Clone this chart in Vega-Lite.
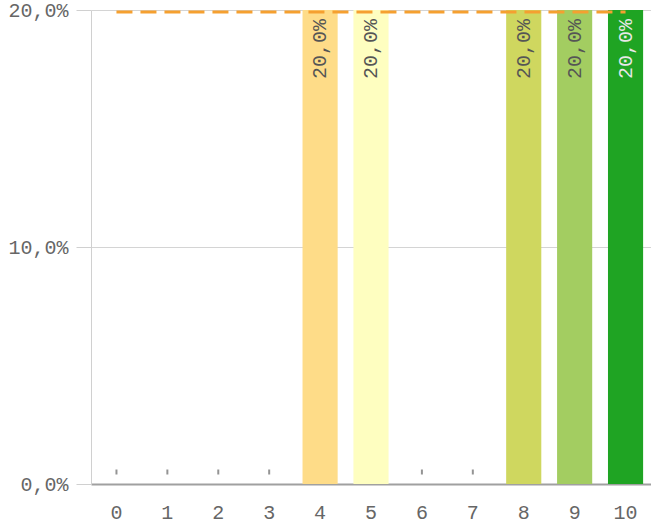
{
  "$schema": "https://vega.github.io/schema/vega-lite/v6.json",
  "width": 560,
  "height": 474,
  "autosize": {"type": "none"},
  "padding": {"left": 91, "top": 10, "right": 0, "bottom": 44},
  "config": {
    "locale": {"number": {"decimal": ",", "thousands": ".", "grouping": [3], "currency": ["", " €"]}},
    "view": {"stroke": null},
    "font": "Liberation Mono"
  },
  "data": {
    "values": [
      {"score": "0", "share": 0},
      {"score": "1", "share": 0},
      {"score": "2", "share": 0},
      {"score": "3", "share": 0},
      {"score": "4", "share": 0.2},
      {"score": "5", "share": 0.2},
      {"score": "6", "share": 0},
      {"score": "7", "share": 0},
      {"score": "8", "share": 0.2},
      {"score": "9", "share": 0.2},
      {"score": "10", "share": 0.2}
    ]
  },
  "encoding": {
    "x": {
      "field": "score", "type": "ordinal", "sort": null,
      "scale": {"paddingInner": 0.31, "paddingOuter": 0.155},
      "axis": {
        "title": null, "labelAngle": 0, "ticks": false, "labelPadding": 18,
        "labelFont": "Liberation Mono", "labelFontSize": 20, "labelColor": "#666",
        "domainColor": "#a0a0a0", "domainWidth": 2, "grid": false
      }
    }
  },
  "layer": [
    {
      "mark": {"type": "bar"},
      "encoding": {
        "y": {
          "field": "share", "type": "quantitative",
          "scale": {"domain": [0, 0.2], "nice": false},
          "axis": {
            "title": null, "format": ".1%", "values": [0, 0.1, 0.2],
            "labelFont": "Liberation Mono", "labelFontSize": 20, "labelColor": "#666",
            "tickSize": 15, "tickColor": "#d0d0d0", "labelPadding": 8,
            "domainColor": "#d0d0d0", "gridColor": "#d4d4d4", "grid": true
          }
        },
        "color": {
          "field": "score", "type": "ordinal", "sort": null, "legend": null,
          "scale": {
            "domain": ["0","1","2","3","4","5","6","7","8","9","10"],
            "range": ["#d7191c","#e34a33","#f07c4a","#fdae61","#fedc88","#fefec0","#e6ef9a","#e1e67a","#cfd75f","#a3cd61","#1fa423"]
          }
        }
      }
    },
    {
      "transform": [{"filter": "datum.share == 0"}],
      "mark": {"type": "tick", "orient": "vertical", "size": 5, "thickness": 2, "yOffset": -12, "color": "#666"},
      "encoding": {
        "y": {"field": "share", "type": "quantitative"}
      }
    },
    {
      "mark": {"type": "line", "color": "#f5a030", "strokeWidth": 3, "strokeDash": [16, 8], "yOffset": 2},
      "encoding": {
        "y": {"datum": 0.2, "type": "quantitative"}
      }
    },
    {
      "transform": [{"filter": "datum.share > 0"}],
      "mark": {"type": "text", "angle": 270, "align": "right", "baseline": "middle", "dx": -9, "font": "Liberation Mono", "fontSize": 20},
      "encoding": {
        "y": {"field": "share", "type": "quantitative"},
        "text": {"field": "share", "type": "quantitative", "format": ".1%"},
        "color": {
          "condition": {"test": "datum.score == '10'", "value": "#e8e8e8"},
          "value": "#555555"
        }
      }
    }
  ]
}
